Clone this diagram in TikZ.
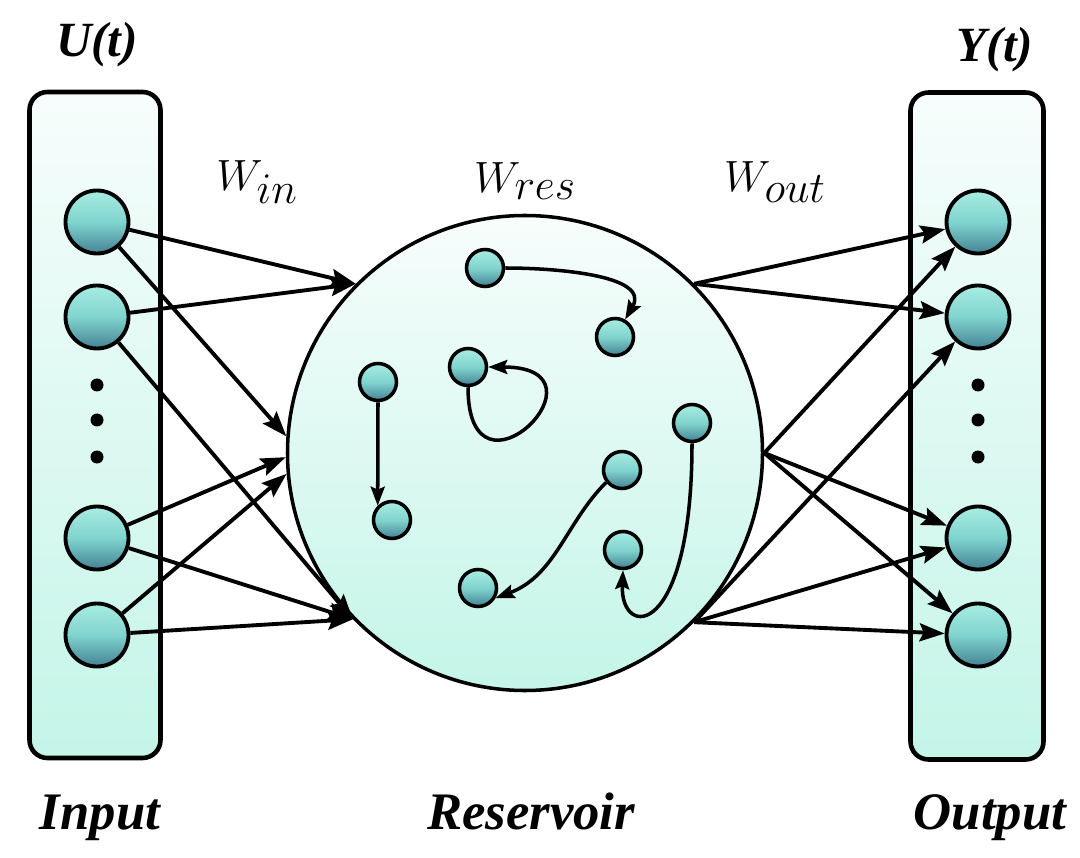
\documentclass[tikz,border=0pt]{standalone}
\usepackage{fontspec}
\setmainfont{Liberation Serif}
\usetikzlibrary{arrows.meta}
\definecolor{boxtop}{RGB}{247,253,252}
\definecolor{boxbot}{RGB}{196,245,232}
\definecolor{celltop}{RGB}{168,236,226}
\definecolor{cellmid}{RGB}{128,212,206}
\definecolor{cellbot}{RGB}{68,130,148}

\begin{document}
\begin{tikzpicture}[
    layerbox/.style={draw, line width=2.6pt, rounded corners=0.36cm, top color=boxtop, bottom color=boxbot, inner sep=0},
    neuron/.style={circle, draw, line width=2.2pt, minimum size=1.26cm, inner sep=0, top color=celltop, bottom color=cellbot, middle color=cellmid},
    resnode/.style={circle, draw, line width=2pt, minimum size=0.74cm, inner sep=0, top color=celltop, bottom color=cellbot, middle color=cellmid},
    vdot/.style={circle, fill=black, minimum size=0.26cm, inner sep=0},
    link/.style={line width=2.2pt, -{Stealth[length=0.5cm, width=0.36cm, inset=0.08cm]}},
    reslink/.style={line width=2pt, -{Stealth[length=0.38cm, width=0.28cm, inset=0.06cm]}},
    title/.style={font=\fontsize{28}{32}\selectfont\bfseries\itshape},
    footlabel/.style={font=\fontsize{30}{34}\selectfont\bfseries\itshape, anchor=base},
    wlabel/.style={font=\fontsize{34}{38}\selectfont}
]

\useasboundingbox (0, 0) rectangle (21.6, 17.14);

\node[layerbox, minimum width=2.62cm, minimum height=13.32cm] (inbox) at (1.9, 8.64) {};
\node[layerbox, minimum width=2.66cm, minimum height=13.34cm] (outbox) at (19.54, 8.62) {};
\node[circle, draw, line width=2pt, minimum size=9.5cm, top color=boxtop, bottom color=boxbot] (res) at (10.5, 8.08) {};

\node[title] (utitle) at (1.94, 16.24) {U(t)};
\node[title] (ytitle) at (19.9, 16.14) {Y(t)};
\node[wlabel] (win) at (5.14, 13.5) {$W_{in}$};
\node[wlabel] (wres) at (10.5, 13.52) {$W_{res}$};
\node[wlabel] (wout) at (15.5, 13.5) {$W_{out}$};
\node[footlabel] (inlabel) at (2.0, 0.56) {Input};
\node[footlabel] (reslabel) at (10.62, 0.56) {Reservoir};
\node[footlabel] (outlabel) at (19.8, 0.56) {Output};

\node[neuron] (i1) at (1.94, 12.7) {};
\node[neuron] (i2) at (1.94, 10.8) {};
\node[vdot] (id1) at (1.94, 9.44) {};
\node[vdot] (id2) at (1.94, 8.74) {};
\node[vdot] (id3) at (1.94, 8.0) {};
\node[neuron] (i3) at (1.94, 6.38) {};
\node[neuron] (i4) at (1.94, 4.44) {};

\node[neuron] (o1) at (19.56, 12.7) {};
\node[neuron] (o2) at (19.56, 10.8) {};
\node[vdot] (od1) at (19.56, 9.44) {};
\node[vdot] (od2) at (19.56, 8.74) {};
\node[vdot] (od3) at (19.56, 8.0) {};
\node[neuron] (o3) at (19.56, 6.38) {};
\node[neuron] (o4) at (19.56, 4.44) {};

\node[resnode] (ra) at (9.7, 11.78) {};
\node[resnode] (rb) at (12.3, 10.4) {};
\node[resnode] (rc) at (9.36, 9.8) {};
\node[resnode] (rd) at (7.56, 9.5) {};
\node[resnode] (re) at (7.84, 6.74) {};
\node[resnode] (rf) at (13.84, 8.68) {};
\node[resnode] (rg) at (12.44, 7.74) {};
\node[resnode] (rh) at (12.46, 6.14) {};
\node[resnode] (ri) at (9.56, 5.38) {};

\draw[link] (i1) -- (res.135);
\draw[link] (i1) -- (res.176);
\draw[link] (i2) -- (res.135);
\draw[link] (i2) -- (res.224);
\draw[link] (i3) -- (res.181);
\draw[link] (i3) -- (res.224);
\draw[link] (i4) -- (res.185);
\draw[link] (i4) -- (res.224);

\draw[link] (res.45) -- (o1);
\draw[link] (res.45) -- (o2);
\draw[link] (res.0) -- (o1);
\draw[link] (res.0) -- (o3);
\draw[link] (res.0) -- (o4);
\draw[link] (res.-45) -- (o2);
\draw[link] (res.-45) -- (o3);
\draw[link] (res.-45) -- (o4);

\draw[reslink] (ra) to[out=0, in=60] (rb);
\draw[reslink] (rc.south) .. controls +(0, -2.6) and +(2.6, 0) .. (rc.east);
\draw[reslink] (rd.south) -- (re.north west);
\draw[reslink] (rg.218) .. controls +(-0.8, -0.8) and +(1.2, 0.45) .. (ri.-30);
\draw[reslink] (rf.south) .. controls (13.84, 4.34) and (12.4, 4.34) .. (rh.south);

\end{tikzpicture}
\end{document}
